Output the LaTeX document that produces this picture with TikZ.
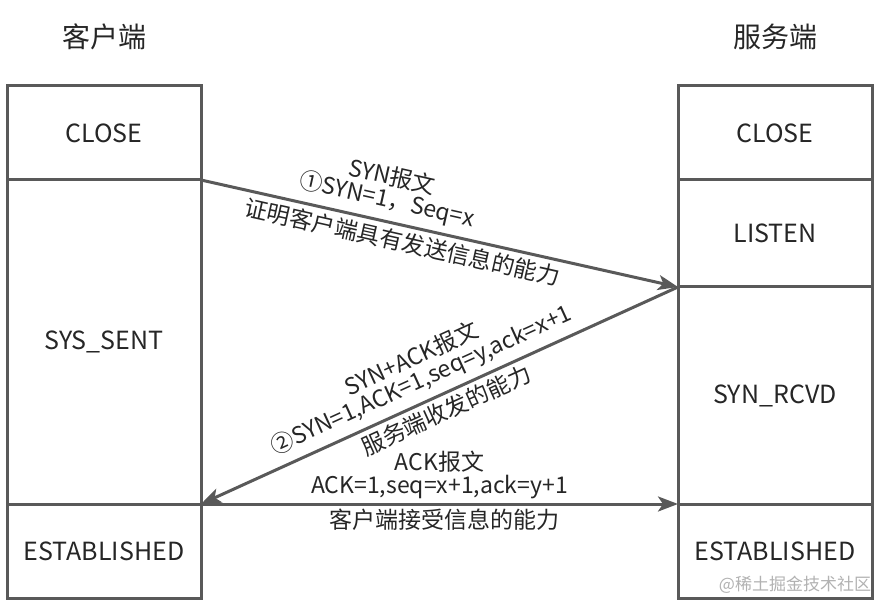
\documentclass[tikz,border=0pt]{standalone}
\usepackage{fontspec}
\setmainfont{Noto Sans CJK SC}
\usetikzlibrary{positioning,arrows.meta}
\definecolor{linegray}{HTML}{595959}
\definecolor{textgray}{HTML}{262626}
\tikzset{
  state/.style={draw=linegray, line width=3pt, outer sep=0pt, minimum width=194pt,
    text=textgray, font=\fontsize{25}{30}\selectfont},
  side/.style={text=textgray, font=\fontsize{28}{32}\selectfont},
  msg/.style={draw=linegray, line width=3pt, -{Stealth[length=20pt,width=15pt,inset=5pt]}},
  lbl/.style={text=textgray, font=\fontsize{23}{23}\selectfont, sloped, align=center, inner sep=2pt},
}

\begin{document}
\begin{tikzpicture}[x=1pt,y=1pt]
\useasboundingbox[fill=white] (0,0) rectangle (884,-604);
% client side
\node[side] (client) at (104,-37) {客户端};
\node[state, minimum height=94pt] (cclose) at (104,-133) {CLOSE};
\node[state, minimum height=324pt, below=0pt of cclose] (csent) {SYS\_SENT};
\node[state, minimum height=94pt, below=0pt of csent] (cest) {ESTABLISHED};
% server side
\node[side] (server) at (775,-37) {服务端};
\node[state, minimum height=94pt] (sclose) at (775,-133) {CLOSE};
\node[state, minimum height=107pt, below=0pt of sclose] (slisten) {LISTEN};
\node[state, minimum height=217pt, below=0pt of slisten] (srcvd) {SYN\_RCVD};
\node[state, minimum height=94pt, below=0pt of srcvd] (sest) {ESTABLISHED};
% handshake
\draw[msg] (cclose.south east) -- (slisten.south west)
  node[lbl, pos=.38, above=5pt] {SYN报文\\①SYN=1，Seq=x}
  node[lbl, pos=.43, below=2pt] {证明客户端具有发送信息的能力};
\draw[msg] (slisten.south west) -- (csent.south east)
  node[lbl, pos=.52, above=5pt] {SYN+ACK报文\\②SYN=1,ACK=1,seq=y,ack=x+1}
  node[lbl, pos=.50, below=2pt] {服务端收发的能力};
\draw[msg] (csent.south east) -- (srcvd.south west)
  node[lbl, pos=.5, above=2pt] {ACK报文\\ACK=1,seq=x+1,ack=y+1}
  node[lbl, pos=.51, below=1pt] {客户端接受信息的能力};
\node[text=black!30, font=\fontsize{17}{20}\selectfont] (wm) at (795,-585) {@稀土掘金技术社区};
\end{tikzpicture}
\end{document}
